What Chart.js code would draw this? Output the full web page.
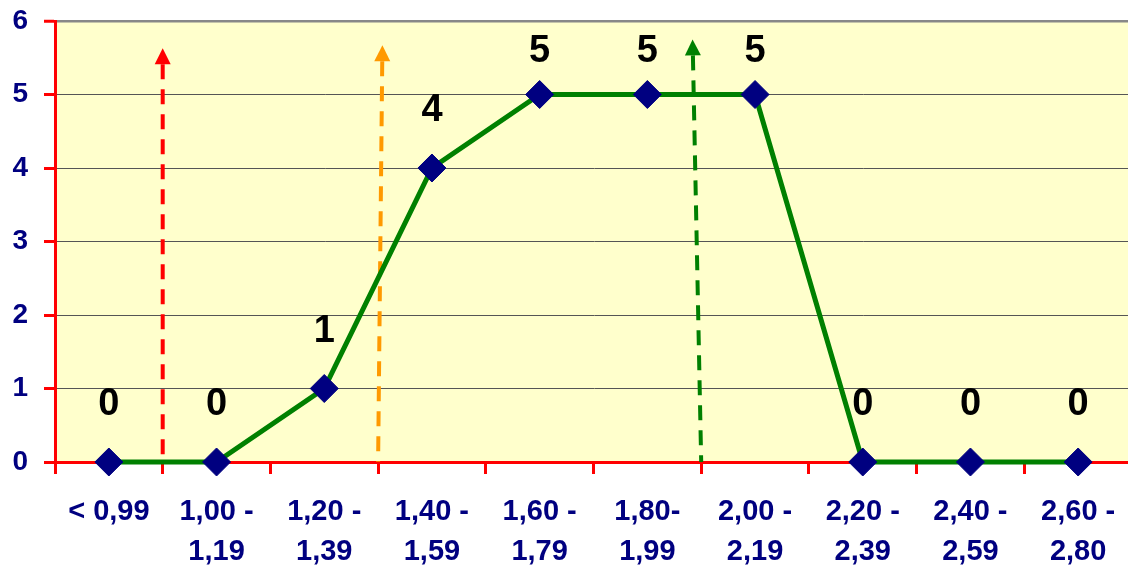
<!DOCTYPE html>
<html>
<head>
<meta charset="utf-8">
<script src="https://cdn.jsdelivr.net/npm/chart.js@4/dist/chart.umd.min.js"></script>
<style>
html, body { margin: 0; padding: 0; background: #fff; overflow: hidden; width: 1128px; height: 570px; }
#caja { width: 1132px; height: 570px; position: relative; }
</style>
</head>
<body>
<div id="caja"><canvas id="grafica"></canvas></div>
<script>
// rangos (eje x)
const categorias = [
    '< 0,99',
    ['1,00 -', '1,19'],
    ['1,20 -', '1,39'],
    ['1,40 -', '1,59'],
    ['1,60 -', '1,79'],
    ['1,80-', '1,99'],
    ['2,00 -', '2,19'],
    ['2,20 -', '2,39'],
    ['2,40 -', '2,59'],
    ['2,60 -', '2,80']
];
// cantidad por rango
const valores = [0, 0, 1, 4, 5, 5, 5, 0, 0, 0];
// eje y
const ticksY = [0, 1, 2, 3, 4, 5, 6];

// flechas punteadas (en unidades del grafico: indice de categoria, valor)
const flechas = [
    { color: '#FF0000', desde: [0.5, 0], hasta: [0.5, 5.63] },
    { color: '#FF9900', desde: [2.5, 0], hasta: [2.54, 5.67] },
    { color: '#008000', desde: [5.5, 0], hasta: [5.42, 5.75] }
];

const fondoAmarillo = {
    id: 'fondoAmarillo',
    beforeDraw(chart) {
        const a = chart.chartArea, ctx = chart.ctx;
        ctx.save();
        ctx.fillStyle = '#FFFFCC';
        ctx.fillRect(a.left, a.top, a.right - a.left, a.bottom - a.top);
        ctx.restore();
    }
};

const dibujaFlechas = {
    id: 'dibujaFlechas',
    beforeDatasetsDraw(chart) {
        const ctx = chart.ctx, sx = chart.scales.x, sy = chart.scales.y;
        ctx.save();
        flechas.forEach(f => {
            const x1 = sx.getPixelForValue(f.desde[0]), y1 = sy.getPixelForValue(f.desde[1]);
            const x2 = sx.getPixelForValue(f.hasta[0]), y2 = sy.getPixelForValue(f.hasta[1]);
            const ang = Math.atan2(y2 - y1, x2 - x1);
            const largo = 16, ancho = 8;
            const bx = x2 - Math.cos(ang) * largo, by = y2 - Math.sin(ang) * largo;
            ctx.strokeStyle = f.color;
            ctx.lineWidth = 4;
            ctx.setLineDash([15, 10]);
            ctx.beginPath();
            ctx.moveTo(bx, by);
            ctx.lineTo(x1, y1);
            ctx.stroke();
            ctx.setLineDash([]);
            ctx.fillStyle = f.color;
            ctx.beginPath();
            ctx.moveTo(x2, y2);
            ctx.lineTo(bx + Math.sin(ang) * ancho, by - Math.cos(ang) * ancho);
            ctx.lineTo(bx - Math.sin(ang) * ancho, by + Math.cos(ang) * ancho);
            ctx.closePath();
            ctx.fill();
        });
        ctx.restore();
    }
};

const etiquetas = {
    id: 'etiquetas',
    afterDatasetsDraw(chart) {
        const ctx = chart.ctx, a = chart.chartArea;
        const pts = chart.getDatasetMeta(0).data;
        ctx.save();
        ctx.font = 'bold 38px "Liberation Sans", Arial, sans-serif';
        ctx.fillStyle = '#000000';
        ctx.textAlign = 'center';
        ctx.textBaseline = 'middle';
        pts.forEach((p, i) => {
            const y = Math.max(p.y - 57, a.top + 31);
            ctx.fillText(String(valores[i]), p.x, y);
        });
        ctx.restore();
    }
};

var grafica = document.getElementById('grafica');
var miGrafica = new Chart(grafica, {
    type: 'line',
    data: {
        labels: categorias,
        datasets: [{
            data: valores,
            clip: false,
            borderColor: '#008000',
            borderWidth: 5,
            tension: 0,
            pointStyle: 'rectRot',
            pointRadius: 14,
            pointHoverRadius: 14,
            pointBackgroundColor: '#000080',
            pointBorderColor: '#000080',
            pointBorderWidth: 1
        }]
    },
    options: {
        responsive: true,
        maintainAspectRatio: false,
        animation: false,
        events: [],
        layout: { autoPadding: false, padding: { top: 21, right: 0, bottom: 0, left: 0 } },
        plugins: {
            legend: { display: false },
            tooltip: { enabled: false }
        },
        scales: {
            x: {
                offset: true,
                afterFit: s => { s.height = 108; s.paddingRight = 0; s.paddingLeft = 0; },
                border: { color: '#FF0000', width: 3 },
                grid: {
                    offset: true,
                    drawOnChartArea: false,
                    drawTicks: true,
                    tickLength: 12,
                    tickColor: '#FF0000',
                    tickWidth: 3
                },
                ticks: {
                    padding: 18,
                    maxRotation: 0,
                    autoSkip: false,
                    color: '#000080',
                    font: { family: '"Liberation Sans", Arial, sans-serif', size: 29, weight: 'bold', lineHeight: 1.38 }
                }
            },
            y: {
                min: ticksY[0],
                max: ticksY[ticksY.length - 1],
                afterFit: s => { s.width = 55; s.paddingTop = 0; s.paddingBottom = 0; },
                afterBuildTicks: s => { s.ticks = ticksY.map(v => ({ value: v })); },
                border: { color: '#FF0000', width: 3 },
                grid: {
                    color: c => c.tick && c.tick.value === 6 ? '#888888' : '#555555',
                    lineWidth: c => c.tick && c.tick.value === 6 ? 2.5 : 1,
                    drawTicks: true,
                    tickLength: 11,
                    tickColor: '#FF0000',
                    tickWidth: 3
                },
                ticks: {
                    padding: 16,
                    color: '#000080',
                    font: { family: '"Liberation Sans", Arial, sans-serif', size: 28, weight: 'bold', lineHeight: 1.2 }
                }
            }
        }
    },
    plugins: [fondoAmarillo, dibujaFlechas, etiquetas]
});
</script>
</body>
</html>
